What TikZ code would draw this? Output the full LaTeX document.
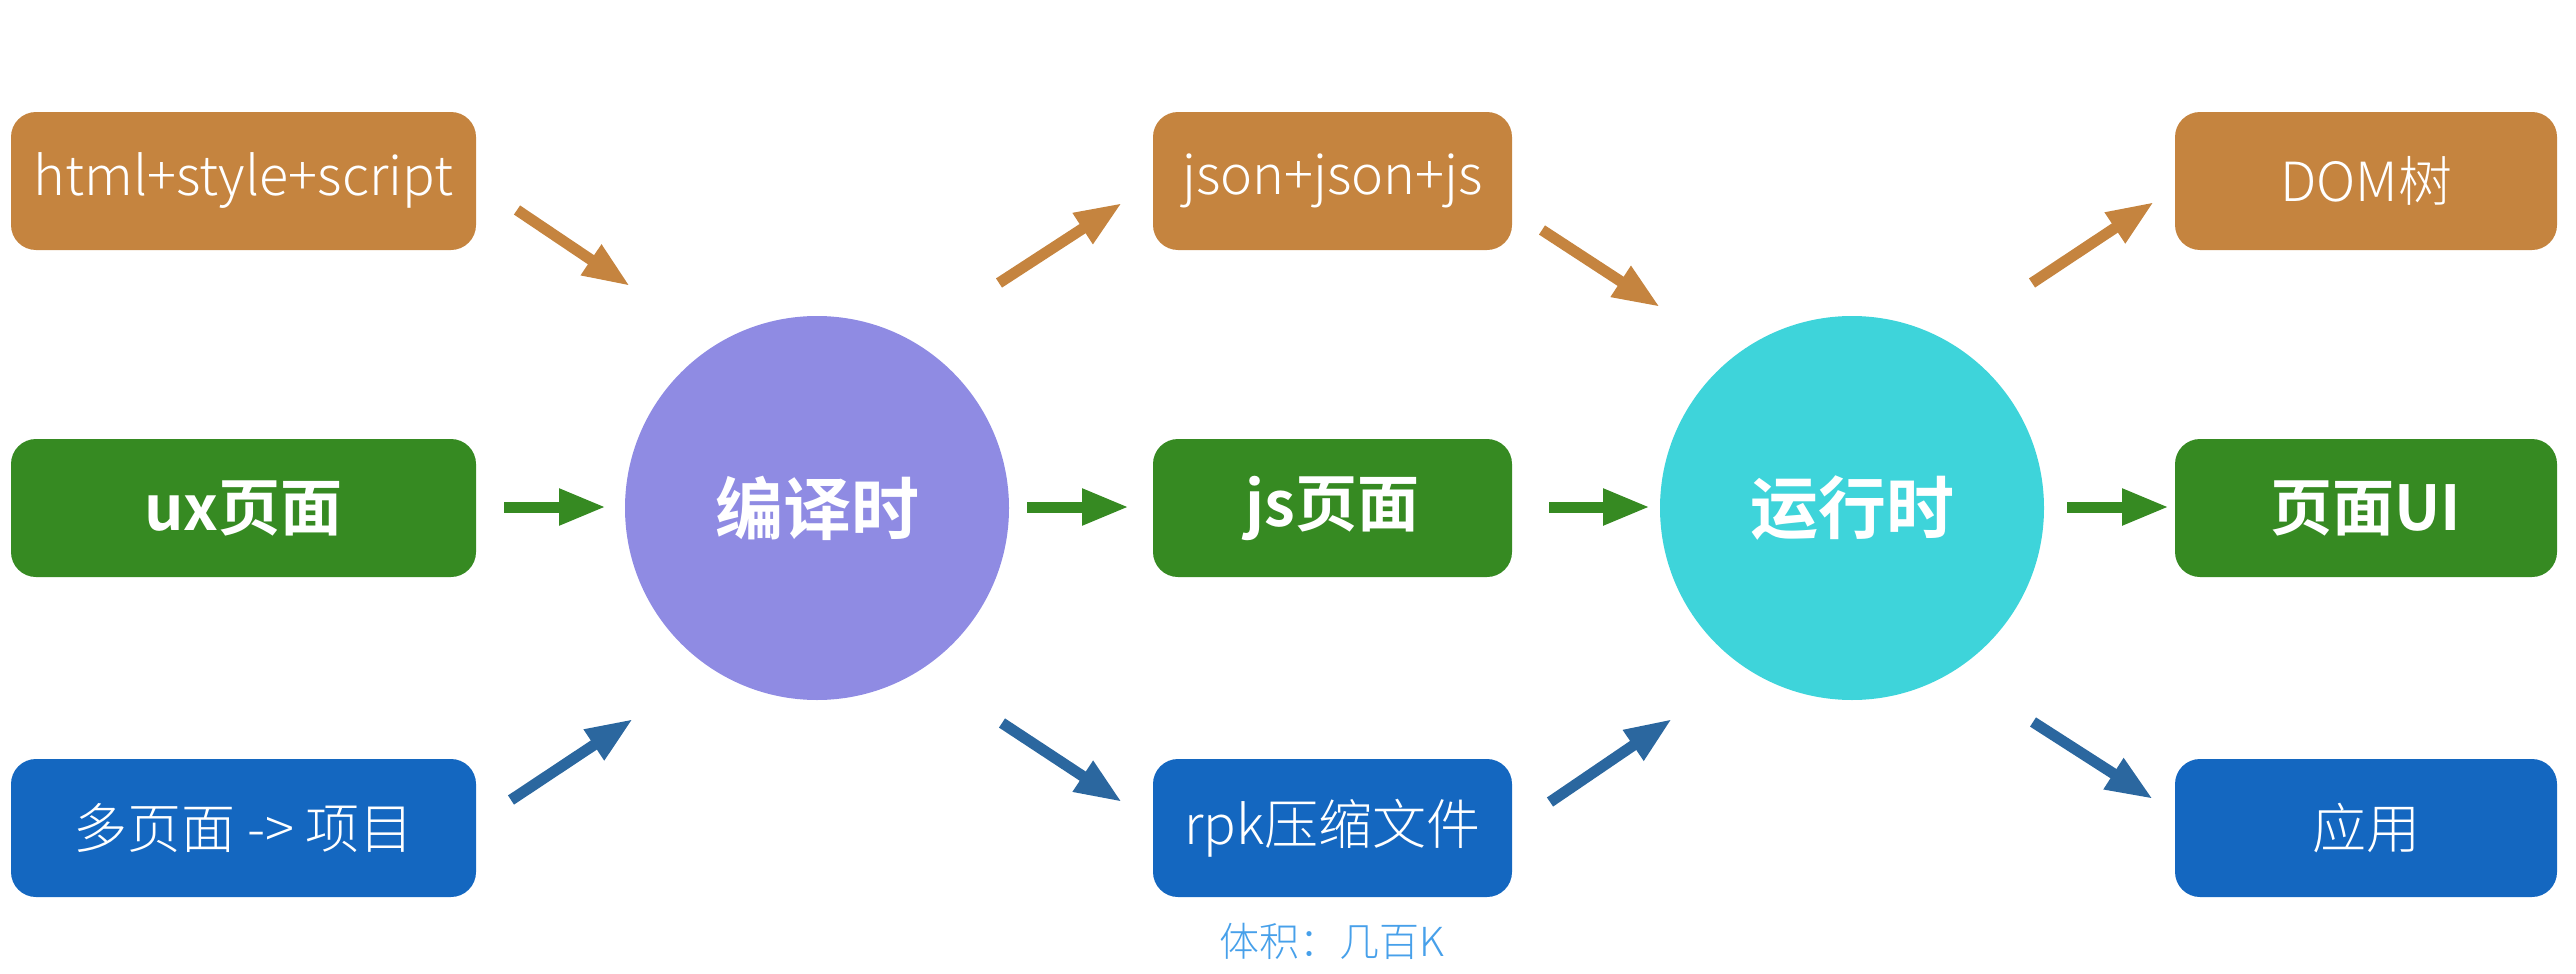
\documentclass[tikz,border=0pt]{standalone}
\usepackage{fontspec}
\setmainfont{Noto Sans CJK SC}[UprightFont={* Light},BoldFont={* Bold}]
\usetikzlibrary{arrows.meta}
\definecolor{cOr}{HTML}{C5843F}
\definecolor{cGr}{HTML}{368A22}
\definecolor{cBl}{HTML}{1467C0}
\definecolor{cBlA}{HTML}{2B679F}
\definecolor{cPu}{HTML}{8F8BE3}
\definecolor{cCy}{HTML}{3ED4DA}
\definecolor{cCap}{HTML}{47A0EA}
\tikzset{
  box/.style={draw=none, rounded corners=25pt, minimum height=138pt, text=white, inner sep=0pt,
    font=\fontsize{54}{60}\selectfont},
  boldbox/.style={box, font=\fontsize{62}{68}\selectfont\bfseries},
  hub/.style={circle, draw=none, minimum size=384pt, inner sep=0pt, text=white,
    font=\fontsize{68}{74}\selectfont\bfseries},
  flow/.style={line width=11pt, -{Triangle[length=47pt,width=34pt]}},
}
\begin{document}
\begin{tikzpicture}[x=1pt,y=-1pt]
\useasboundingbox (0,0) rectangle (2576,974);
% column 1
\node[box, fill=cOr, minimum width=465pt] (b11) at (243.5,181) {html+style+script};
\node[boldbox, fill=cGr, minimum width=465pt] (b12) at (243.5,508) {ux页面};
\node[box, fill=cBl, minimum width=465pt] (b13) at (243.5,828) {多页面 -> 项目};
% hub 1
\node[hub, fill=cPu] (c1) at (817,508) {编译时};
% column 3
\node[box, fill=cOr, minimum width=359pt] (b31) at (1332.5,181) {json+json+js};
\node[boldbox, fill=cGr, minimum width=359pt] (b32) at (1332.5,508) {js页面};
\node[box, fill=cBl, minimum width=359pt] (b33) at (1332.5,828) {rpk压缩文件};
\node[text=cCap, font=\fontsize{40}{44}\selectfont] (cap) at (1332,941) {体积：几百K};
% hub 2
\node[hub, fill=cCy] (c2) at (1852,508) {运行时};
% column 5
\node[box, fill=cOr, minimum width=382pt] (b51) at (2366,181) {DOM树};
\node[boldbox, fill=cGr, minimum width=382pt] (b52) at (2366,508) {页面UI};
\node[box, fill=cBl, minimum width=382pt] (b53) at (2366,828) {应用};
% arrow end points
\coordinate (a1s) at (517,210);  \coordinate (a1e) at (630,286);
\coordinate (a2s) at (504,507);  \coordinate (a2e) at (606,507);
\coordinate (a3s) at (511,800);  \coordinate (a3e) at (633,719);
\coordinate (a4s) at (999,283);  \coordinate (a4e) at (1122,203);
\coordinate (a5s) at (1027,507); \coordinate (a5e) at (1129,507);
\coordinate (a6s) at (1002,723); \coordinate (a6e) at (1122,802);
\coordinate (a7s) at (1542,230); \coordinate (a7e) at (1660,307);
\coordinate (a8s) at (1549,507); \coordinate (a8e) at (1650,507);
\coordinate (a9s) at (1550,802); \coordinate (a9e) at (1672,719);
\coordinate (a10s) at (2032,283); \coordinate (a10e) at (2154,202);
\coordinate (a11s) at (2067,507); \coordinate (a11e) at (2169,507);
\coordinate (a12s) at (2033,722); \coordinate (a12e) at (2153,799);
\draw[flow, cOr] (a1s) -- (a1e);
\draw[flow, cGr] (a2s) -- (a2e);
\draw[flow, cBlA] (a3s) -- (a3e);
\draw[flow, cOr] (a4s) -- (a4e);
\draw[flow, cGr] (a5s) -- (a5e);
\draw[flow, cBlA] (a6s) -- (a6e);
\draw[flow, cOr] (a7s) -- (a7e);
\draw[flow, cGr] (a8s) -- (a8e);
\draw[flow, cBlA] (a9s) -- (a9e);
\draw[flow, cOr] (a10s) -- (a10e);
\draw[flow, cGr] (a11s) -- (a11e);
\draw[flow, cBlA] (a12s) -- (a12e);
\end{tikzpicture}
\end{document}
